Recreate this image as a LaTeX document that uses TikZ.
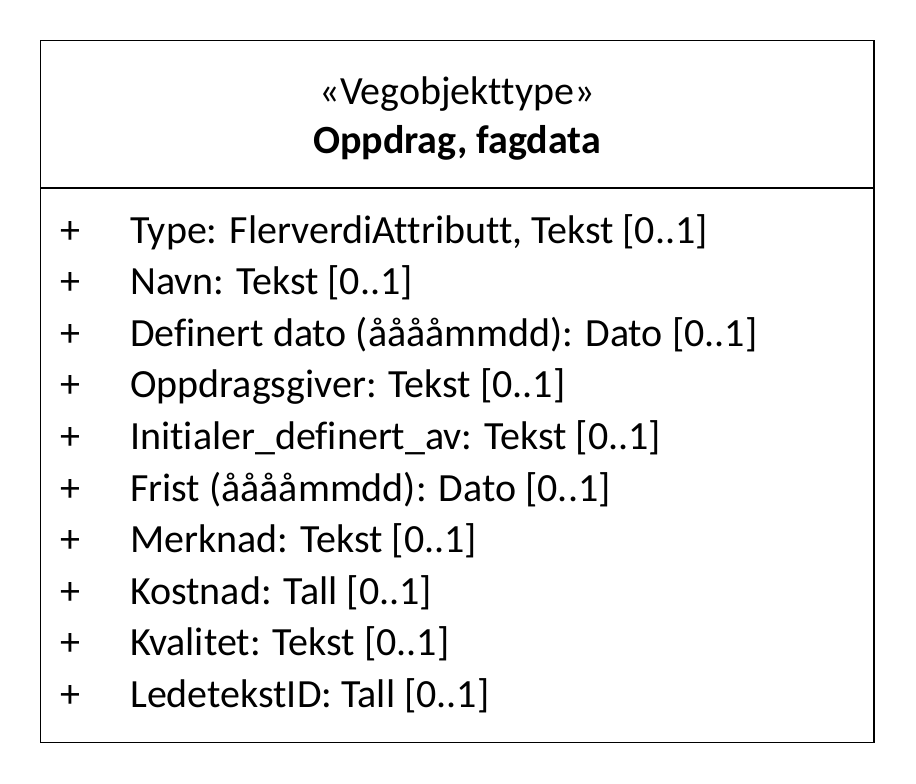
\documentclass[tikz,border=0pt]{standalone}
\usepackage{fontspec}
\setmainfont[Ligatures=CommonOff]{Carlito}
\begin{document}
\begin{tikzpicture}[x=1pt,y=-1pt,
  umlfont/.style={font=\fontsize{40}{44}\selectfont},
  attr/.style={umlfont,anchor=base west,inner sep=0pt},
  vis/.style={umlfont,anchor=base,inner sep=0pt},
  head/.style={umlfont,anchor=base,inner sep=0pt}]
\useasboundingbox (0,0) rectangle (916,784);
% class box and compartment separator
\draw[line width=1.3pt] (40.5,40.5) rectangle (874,742.5);
\coordinate (sepL) at (40.5,188);
\coordinate (sepR) at (874,188);
\draw[line width=1.3pt] (sepL) -- (sepR);
% header compartment
\node[head] (stereo) at (457,104) {«Vegobjekttype»};
\node[head,font=\fontsize{40}{44}\selectfont\bfseries] (title) at (457,153) {Oppdrag, fagdata};
% attributes
\foreach \i/\t in {0/{Type: FlerverdiAttributt, Tekst [0..1]},
                   1/{Navn: Tekst [0..1]},
                   2/{Definert dato (ååååmmdd): Dato [0..1]},
                   3/{Oppdragsgiver: Tekst [0..1]},
                   4/{Initialer\_definert\_av: Tekst [0..1]},
                   5/{Frist (ååååmmdd): Dato [0..1]},
                   6/{Merknad: Tekst [0..1]},
                   7/{Kostnad: Tall [0..1]},
                   8/{Kvalitet: Tekst [0..1]},
                   9/{LedetekstID: Tall [0..1]}}{
  \node[vis] (v\i) at (70,243+51.6*\i) {+};
  \node[attr] (a\i) at (130,243+51.6*\i) {\t};
}
\end{tikzpicture}
\end{document}
